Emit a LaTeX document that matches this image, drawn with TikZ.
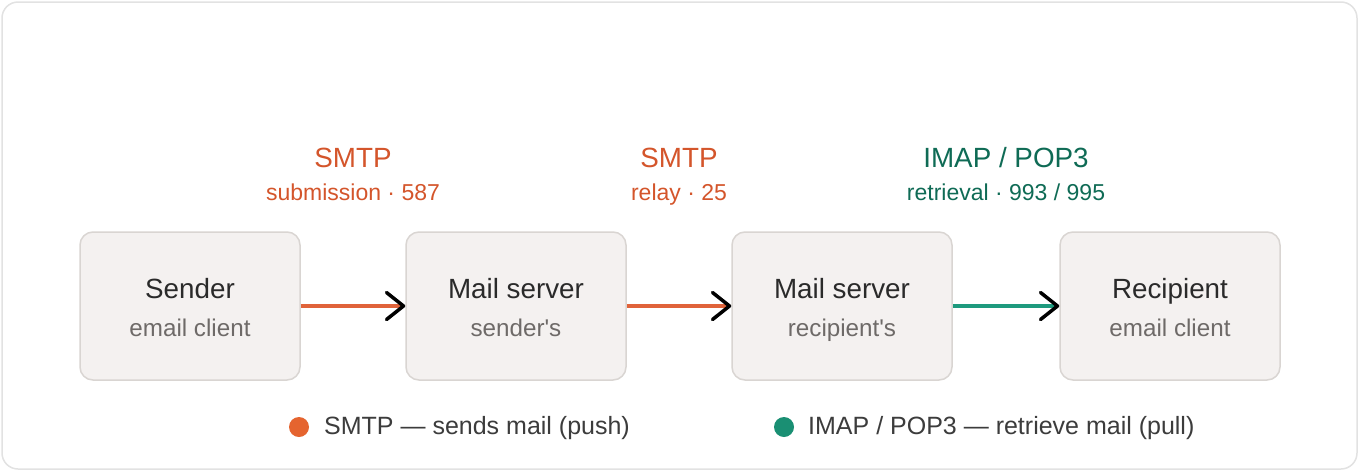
\documentclass[tikz,border=0pt]{standalone}
\usepackage{fontspec}
\setmainfont{Liberation Sans}
\usetikzlibrary{arrows.meta}
\definecolor{boxfill}{HTML}{F4F1F0}
\definecolor{boxline}{HTML}{D9D5D2}
\definecolor{frameline}{HTML}{E2E2E2}
\definecolor{titlecol}{HTML}{2A2A2A}
\definecolor{subcol}{HTML}{6E6A68}
\definecolor{legcol}{HTML}{3C3C3C}
\definecolor{orangetxt}{HTML}{D4552B}
\definecolor{orangeline}{HTML}{E0633A}
\definecolor{orangedot}{HTML}{E5642F}
\definecolor{greentxt}{HTML}{0F6B55}
\definecolor{greenline}{HTML}{1E9A7E}
\definecolor{greendot}{HTML}{1A8F73}
\tikzset{
  stagebox/.style={draw=boxline, line width=1.5pt, fill=boxfill, rounded corners=13pt,
    minimum width=220pt, minimum height=148pt, inner sep=0pt},
  titletxt/.style={anchor=base, inner sep=0pt, text=titlecol, font=\fontsize{27.8}{32}\selectfont},
  subtxt/.style={anchor=base, inner sep=0pt, text=subcol, font=\fontsize{24.2}{28}\selectfont},
  protoname/.style={anchor=base, inner sep=0pt, font=\fontsize{27.8}{32}\selectfont},
  protosub/.style={anchor=base, inner sep=0pt, font=\fontsize{23}{27}\selectfont},
  legtxt/.style={anchor=base west, inner sep=0pt, text=legcol, font=\fontsize{25}{29}\selectfont},
  flow/.style={line width=4pt, -{Straight Barb[color=black,length=17pt,width=27pt,line width=3.5pt,round]}},
}
\begin{document}
\begin{tikzpicture}[x=1pt,y=-1pt]
\useasboundingbox (0,0) rectangle (1360,472);
\draw[frameline, line width=1.5pt, fill=white, rounded corners=16pt] (2,2) rectangle (1357,469);

% boxes
\node[stagebox] (s) at (190,306) {};
\node[stagebox] (m1) at (516,306) {};
\node[stagebox] (m2) at (842,306) {};
\node[stagebox] (r) at (1170,306) {};

\node[titletxt] (st) at (190,298) {Sender};
\node[subtxt] (ss) at (190,336) {email client};
\node[titletxt] (m1t) at (516,298) {Mail server};
\node[subtxt] (m1s) at (516,336) {sender\textquotesingle s};
\node[titletxt] (m2t) at (842,298) {Mail server};
\node[subtxt] (m2s) at (842,336) {recipient\textquotesingle s};
\node[titletxt] (rt) at (1170,298) {Recipient};
\node[subtxt] (rs) at (1170,336) {email client};

% connectors
\draw[flow, orangeline] (s.east) -- (m1.west);
\draw[flow, orangeline] (m1.east) -- (m2.west);
\draw[flow, greenline] (m2.east) -- (r.west);

% protocol labels
\node[protoname, text=orangetxt] (l1a) at (353,167) {SMTP};
\node[protosub, text=orangetxt] (l1b) at (353,200) {submission · 587};
\node[protoname, text=orangetxt] (l2a) at (679,167) {SMTP};
\node[protosub, text=orangetxt] (l2b) at (679,200) {relay · 25};
\node[protoname, text=greentxt] (l3a) at (1006,167) {IMAP / POP3};
\node[protosub, text=greentxt] (l3b) at (1006,200) {retrieval · 993 / 995};

% legend
\fill[orangedot] (299,427) circle (10pt);
\node[legtxt] (leg1) at (324,434) {SMTP — sends mail (push)};
\fill[greendot] (784,427) circle (10pt);
\node[legtxt] (leg2) at (808,434) {IMAP / POP3 — retrieve mail (pull)};
\end{tikzpicture}
\end{document}
